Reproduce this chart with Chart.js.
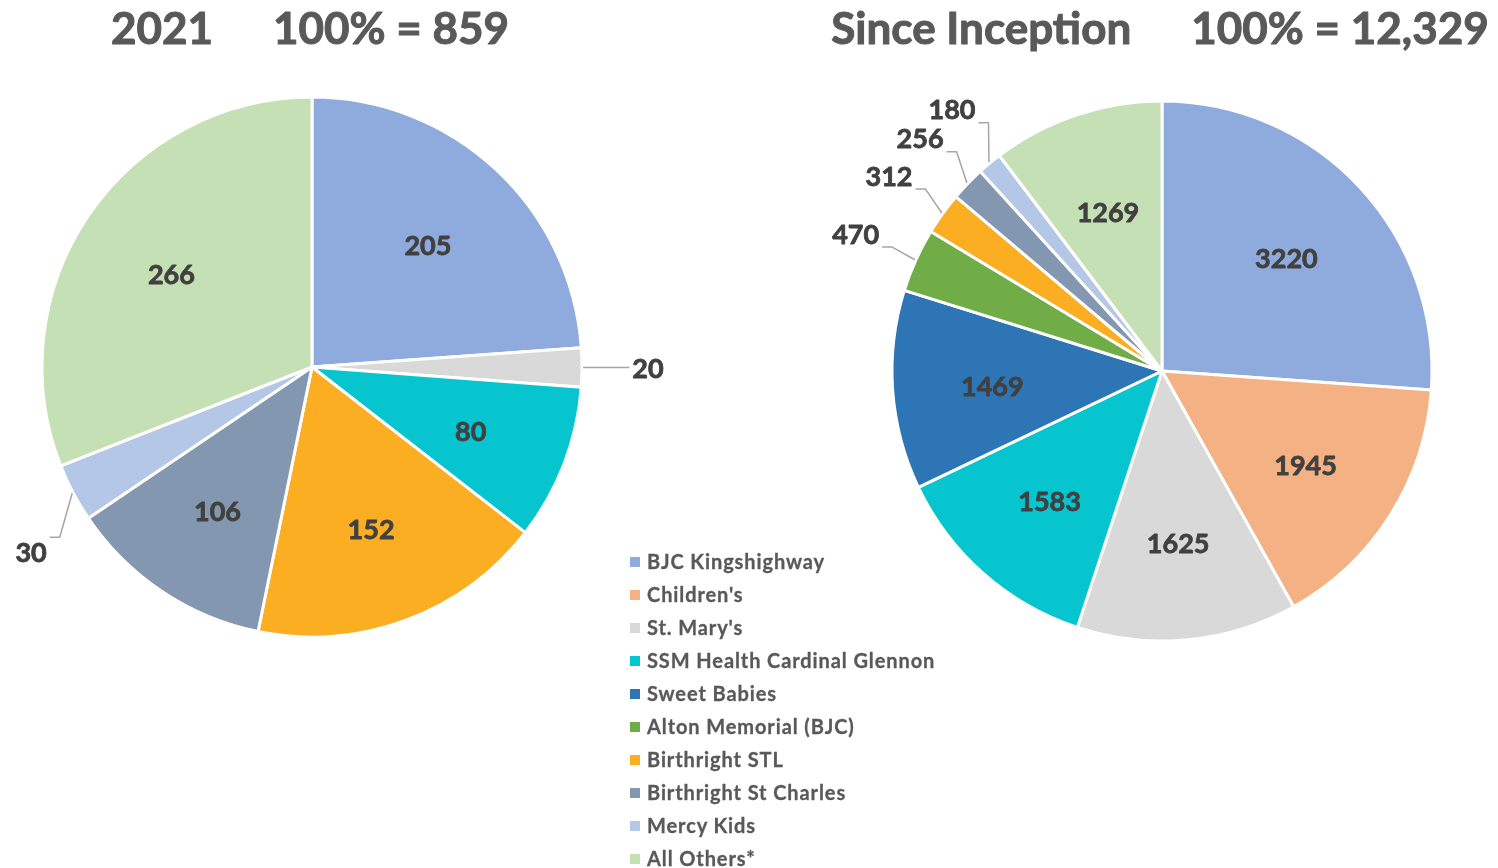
<!DOCTYPE html>
<html><head><meta charset="utf-8">
<script src="https://cdn.jsdelivr.net/npm/chart.js@4.4.1/dist/chart.umd.min.js"></script>
<style>
html,body{margin:0;padding:0;background:#fff;width:1498px;height:868px;overflow:hidden;font-family:Lato, sans-serif;}
#c1{position:absolute;left:0;top:0;}
#c2{position:absolute;left:740px;top:0;}
#legend{position:absolute;left:630px;top:545px;}
.li{height:33px;line-height:33px;font-weight:700;font-size:20px;letter-spacing:0.9px;color:#595959;white-space:nowrap;-webkit-text-stroke:0.3px #595959;}
.sw{display:inline-block;width:10px;height:10px;margin-right:7px;vertical-align:middle;position:relative;top:-2px;}
</style></head><body>
<canvas id="c1" width="740" height="700"></canvas>
<canvas id="c2" width="758" height="700"></canvas>
<div id="legend"></div>
<script>
const categories = ["BJC Kingshighway", "Children's", "St. Mary's", "SSM Health Cardinal Glennon", "Sweet Babies", "Alton Memorial (BJC)", "Birthright STL", "Birthright St Charles", "Mercy Kids", "All Others*"];
const values2021 = [205, 0, 20, 80, 0, 0, 152, 106, 30, 266];
const valuesSince = [3220, 1945, 1625, 1583, 1469, 470, 312, 256, 180, 1269];
const title2021 = "2021";
const titleSince = "Since Inception";
const sliceColors = ["#8FAADC", "#F4B183", "#D9D9D9", "#06C5CE", "#2E75B6", "#70AD47", "#FBAE22", "#8497B0", "#B4C7E7", "#C5E0B4"];

const sum = a => a.reduce((s, v) => s + v, 0);

function boldText(ctx, txt, x, y, w) {
  ctx.lineWidth = w;
  ctx.lineJoin = 'round';
  ctx.strokeText(txt, x, y);
  ctx.fillText(txt, x, y);
}

const pieLabels = {
  id: 'pieLabels',
  afterDatasetsDraw(chart) {
    const ctx = chart.ctx;
    const meta = chart.getDatasetMeta(0);
    const data = chart.data.datasets[0].data;
    const total = sum(data);
    ctx.save();
    ctx.font = '700 27px Lato';
    ctx.fillStyle = '#404040';
    ctx.strokeStyle = '#404040';
    ctx.textAlign = 'center';
    ctx.textBaseline = 'middle';
    const placed = [];
    const margin = 12;
    meta.data.forEach((arc, i) => {
      const v = data[i];
      if (!v) return;
      const p = arc.getProps(['x', 'y', 'startAngle', 'endAngle', 'outerRadius'], true);
      const mid = (p.startAngle + p.endAngle) / 2;
      const r = p.outerRadius;
      const txt = String(v);
      if (v / total >= 0.04) {
        boldText(ctx, txt, p.x + Math.cos(mid) * r * 0.63, p.y + Math.sin(mid) * r * 0.63 + 4, 0.8);
      } else {
        const w = ctx.measureText(txt).width + 6, h = 28;
        const dist = r + 66;
        const step = Math.PI / 360;
        let a = mid, cx, cy, tries = 0;
        while (true) {
          cx = p.x + Math.cos(a) * dist; cy = p.y + Math.sin(a) * dist;
          if (cx - w / 2 < margin && tries < 120) { a += Math.sin(a) > 0 ? -step : step; tries++; continue; }
          if (cx + w / 2 > chart.width - margin && tries < 120) { a += Math.sin(a) > 0 ? step : -step; tries++; continue; }
          const hit = placed.some(b => Math.abs(b.cx - cx) < (b.w + w) / 2 && Math.abs(b.cy - cy) < (b.h + h) / 2);
          if (!hit || tries > 120) break;
          a += step; tries++;
        }
        placed.push({cx, cy, w, h});
        const px = p.x + Math.cos(mid) * (r + 1), py = p.y + Math.sin(mid) * (r + 1);
        const qx = Math.max(cx - w / 2, Math.min(px, cx + w / 2));
        const qy = Math.max(cy - h / 2, Math.min(py, cy + h / 2));
        if (Math.hypot(qx - px, qy - py) > 12) {
          ctx.save();
          ctx.strokeStyle = '#A6A6A6';
          ctx.lineWidth = 1.5;
          ctx.beginPath();
          ctx.moveTo(px, py);
          const side = qx <= cx - w / 2 + 0.1 ? -1 : (qx >= cx + w / 2 - 0.1 ? 1 : 0);
          if (side !== 0) {
            ctx.lineTo(qx + side * 10, qy);
          }
          ctx.lineTo(qx, qy);
          ctx.stroke();
          ctx.restore();
        }
        boldText(ctx, txt, cx, cy + 2, 0.8);
      }
    });
    ctx.restore();
  }
};

const pieTitle = {
  id: 'pieTitle',
  afterDraw(chart, args, opts) {
    const ctx = chart.ctx;
    const meta = chart.getDatasetMeta(0);
    const cx = meta.data[0].x;
    const parts = opts.parts || [];
    const gap = 60;
    ctx.save();
    ctx.font = '700 44px Lato';
    ctx.fillStyle = '#595959';
    ctx.strokeStyle = '#595959';
    ctx.textBaseline = 'alphabetic';
    ctx.textAlign = 'left';
    const widths = parts.map(t => ctx.measureText(t).width);
    const totalW = sum(widths) + gap * (parts.length - 1);
    let x = cx - totalW / 2 - 2;
    parts.forEach((t, i) => { boldText(ctx, t, x, 44, 1); x += widths[i] + gap; });
    ctx.restore();
  }
};

function makePie(id, values, titleText, padding) {
  const total = sum(values);
  return new Chart(document.getElementById(id), {
    type: 'pie',
    data: {
      labels: categories,
      datasets: [{
        data: values,
        backgroundColor: sliceColors,
        borderColor: '#FFFFFF',
        borderWidth: 3
      }]
    },
    options: {
      responsive: false,
      animation: false,
      radius: 270,
      layout: { padding },
      plugins: {
        legend: { display: false },
        tooltip: { enabled: false },
        pieTitle: { parts: [titleText, '100% = ' + total.toLocaleString('en-US')] }
      }
    },
    plugins: [pieLabels, pieTitle]
  });
}

makePie('c1', values2021, title2021, { left: 42, right: 158, top: 97, bottom: 63 });
makePie('c2', valuesSince, titleSince, { left: 152, right: 66, top: 101, bottom: 59 });

const legend = document.getElementById('legend');
categories.forEach((c, i) => {
  const row = document.createElement('div');
  row.className = 'li';
  const sw = document.createElement('span');
  sw.className = 'sw';
  sw.style.background = sliceColors[i];
  row.appendChild(sw);
  row.appendChild(document.createTextNode(c));
  legend.appendChild(row);
});
</script>
</body></html>
